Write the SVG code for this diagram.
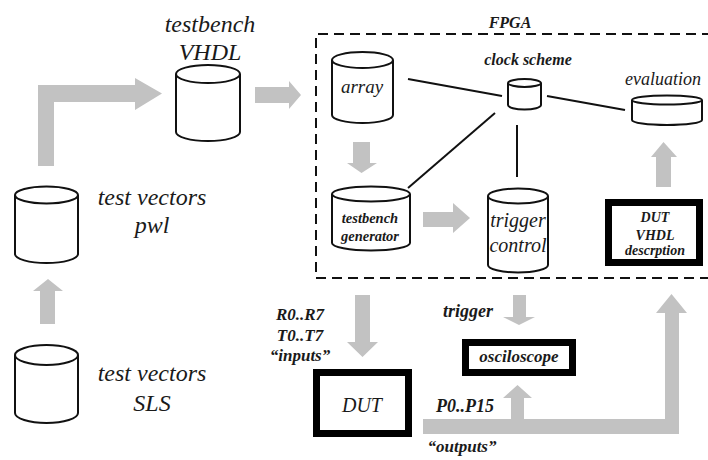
<svg xmlns="http://www.w3.org/2000/svg" width="708" height="460" viewBox="0 0 708 460">
  <style>
    .cyl { fill: #fff; stroke: #111; stroke-width: 2; }
    .box { fill: #fff; stroke: #000; stroke-width: 7; }
    .flow { fill: #c2c2c2; stroke: none; }
    .link { stroke: #111; stroke-width: 2; fill: none; }
    .frame { stroke: #111; stroke-width: 2; fill: none; stroke-dasharray: 10 6; }
    text { font-family: "Liberation Serif", "Times New Roman", serif; font-style: italic; fill: #1a1a1a; text-anchor: middle; }
    .big { font-size: 24px; }
    .b { font-weight: bold; }
  </style>

  <rect width="708" height="460" fill="#fff"/>

  <!-- FPGA boundary (right side runs past the canvas edge) -->
  <g id="fpga">
    <path class="frame" d="M712,34 H316 V278 H712"/>
    <text x="510" y="28" class="b" font-size="16">FPGA</text>
  </g>

  <!-- wide grey data-flow arrows -->
  <g id="connectors">
    <path class="flow" d="M38,166 V85 H135 V78 L162,93.5 L135,110 V102 H54 V166 Z"/>
    <path class="flow" d="M255,87 H289 V81 L301,95 L289,109 V103 H255 Z"/>
    <path class="flow" d="M40,324 V291 H33 L48,279 L63,291 H55 V324 Z"/>
    <path class="flow" d="M353,142 H370 V163 H377 L361.5,173 L347,163 H353 Z"/>
    <path class="flow" d="M423,212 H453 V203 L470,218 L453,233 V227 H423 Z"/>
    <path class="flow" d="M656,187 V157 H651 L663.5,142 L677,157 H671 V187 Z"/>
    <path class="flow" d="M355,295 H370 V342 H378 L362.5,357 L347,342 H355 Z"/>
    <path class="flow" d="M513,295 H526 V317 H535 L519,325 L503,317 H513 Z"/>
    <path class="flow" d="M423,419 H511 V398 H503 L517.5,385 L532,398 H524 V419 H665 V313 H656 L671.5,294 L687,313 H679 V434 H423 Z"/>
    <!-- clock distribution wires -->
    <line class="link" x1="408" y1="79" x2="502" y2="96"/>
    <line class="link" x1="547" y1="96" x2="625" y2="110"/>
    <line class="link" x1="495" y1="113" x2="408" y2="188"/>
    <line class="link" x1="517" y1="125" x2="517" y2="177"/>
  </g>

  <g id="testbench-vhdl">
    <path class="cyl" d="M176,74 V132 A32,9 0 0 0 240,132 V74"/>
    <ellipse class="cyl" cx="208" cy="74" rx="32" ry="9"/>
    <text x="210" y="32" class="big">testbench</text>
    <text x="210" y="60" class="big">VHDL</text>
  </g>

  <g id="test-vectors-pwl">
    <path class="cyl" d="M15,195 V254 A31.5,9 0 0 0 78,254 V195"/>
    <ellipse class="cyl" cx="46.5" cy="195" rx="31.5" ry="8.5"/>
    <text x="152" y="205" class="big">test vectors</text>
    <text x="152" y="233" class="big">pwl</text>
  </g>

  <g id="test-vectors-sls">
    <path class="cyl" d="M15,355 V413 A31.5,10 0 0 0 78,413 V355"/>
    <ellipse class="cyl" cx="46.5" cy="355" rx="31.5" ry="10"/>
    <text x="152" y="381" class="big">test vectors</text>
    <text x="152" y="411" class="big">SLS</text>
  </g>

  <g id="array">
    <path class="cyl" d="M332,60 V115 A30.5,8 0 0 0 393,115 V60"/>
    <ellipse class="cyl" cx="362.5" cy="60" rx="30.5" ry="8"/>
    <text x="362" y="93" font-size="19">array</text>
  </g>

  <g id="clock-scheme">
    <path class="cyl" d="M508,83 V105 A16.5,4.5 0 0 0 541,105 V83"/>
    <ellipse class="cyl" cx="524.5" cy="83" rx="16.5" ry="4"/>
    <text x="528" y="65" class="b" font-size="16">clock scheme</text>
  </g>

  <g id="evaluation">
    <path class="cyl" d="M632,100 V120 A35,5 0 0 0 702,120 V100"/>
    <ellipse class="cyl" cx="667" cy="100" rx="35" ry="4.5"/>
    <text x="663" y="85" font-size="18">evaluation</text>
  </g>

  <g id="testbench-generator">
    <path class="cyl" d="M332,194 V243 A39,7.5 0 0 0 410,243 V194"/>
    <ellipse class="cyl" cx="371" cy="194" rx="39" ry="7.5"/>
    <text x="370" y="223" class="b" font-size="14.5">testbench</text>
    <text x="370" y="241" class="b" font-size="14.5">generator</text>
  </g>

  <g id="trigger-control">
    <path class="cyl" d="M488,196 V265 A30,7.5 0 0 0 548,265 V196"/>
    <ellipse class="cyl" cx="518" cy="196" rx="30" ry="7.5"/>
    <text x="518" y="227" font-size="20">trigger</text>
    <text x="518" y="252" font-size="20">control</text>
  </g>

  <g id="dut-vhdl">
    <rect class="box" x="608.5" y="202.5" width="91" height="60"/>
    <text x="655" y="222" class="b" font-size="14">DUT</text>
    <text x="655" y="240" class="b" font-size="14">VHDL</text>
    <text x="655" y="255" class="b" font-size="14">descrption</text>
  </g>

  <g id="dut">
    <rect class="box" x="316.5" y="372.5" width="92" height="61"/>
    <text x="362" y="412" font-size="20">DUT</text>
    <text x="300" y="320" class="b" font-size="17">R0..R7</text>
    <text x="300" y="341" class="b" font-size="17">T0..T7</text>
    <text x="300" y="361" class="b" font-size="17">“inputs”</text>
  </g>

  <g id="osciloscope">
    <rect class="box" x="465.5" y="342.5" width="107" height="30"/>
    <text x="519" y="362" class="b" font-size="17">osciloscope</text>
    <text x="468" y="317" class="b" font-size="18">trigger</text>
    <text x="465" y="412" class="b" font-size="18">P0..P15</text>
    <text x="462" y="452" class="b" font-size="17">“outputs”</text>
  </g>
</svg>
